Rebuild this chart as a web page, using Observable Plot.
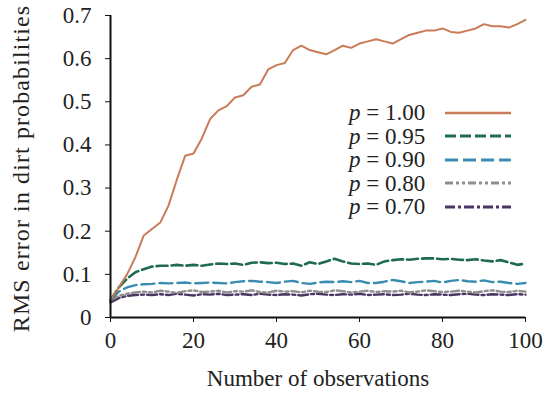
<!DOCTYPE html>
<html>
<head>
<meta charset="utf-8">
<script src="https://cdn.jsdelivr.net/npm/d3@7"></script>
<script src="https://cdn.jsdelivr.net/npm/@observablehq/plot@0.6"></script>
<style>
  html, body { margin: 0; padding: 0; background: #fff; }
  #wrap { position: relative; width: 548px; height: 397px; font-family: "Liberation Serif", "DejaVu Serif", serif; }
  #legend { position: absolute; left: 349px; top: 101px; font-size: 23px; line-height: 23.5px; color: #222; }
  #legend .row { display: flex; align-items: center; height: 23.5px; }
  #legend .lab { width: 94px; white-space: nowrap; }
  #legend svg { display: block; }
</style>
</head>
<body>
<div id="wrap"></div>
<script>
const xs = [0,2,4,6,8,10,12,14,16,18,20,22,24,26,28,30,32,34,36,38,40,42,44,46,48,50,52,54,56,58,60,62,64,66,68,70,72,74,76,78,80,82,84,86,88,90,92,94,96,98,100];
const p100 = [0.04,0.07,0.10,0.14,0.19,0.205,0.22,0.26,0.32,0.375,0.38,0.415,0.46,0.48,0.49,0.51,0.515,0.535,0.54,0.575,0.585,0.59,0.62,0.63,0.62,0.615,0.61,0.62,0.63,0.625,0.635,0.64,0.645,0.64,0.635,0.645,0.655,0.66,0.665,0.665,0.67,0.662,0.66,0.665,0.67,0.68,0.675,0.675,0.672,0.68,0.69];
const p095 = [0.04,0.07,0.09,0.105,0.112,0.118,0.12,0.12,0.122,0.12,0.122,0.12,0.123,0.125,0.124,0.125,0.122,0.127,0.128,0.126,0.127,0.124,0.125,0.12,0.128,0.124,0.13,0.136,0.13,0.125,0.124,0.125,0.122,0.13,0.133,0.135,0.134,0.136,0.137,0.137,0.135,0.136,0.134,0.133,0.135,0.132,0.13,0.133,0.128,0.122,0.125];
const p090 = [0.04,0.06,0.07,0.075,0.077,0.078,0.08,0.079,0.08,0.081,0.079,0.08,0.081,0.08,0.079,0.082,0.084,0.085,0.083,0.082,0.08,0.083,0.085,0.08,0.078,0.081,0.083,0.082,0.084,0.082,0.085,0.08,0.08,0.083,0.087,0.084,0.08,0.082,0.083,0.085,0.081,0.085,0.087,0.084,0.083,0.086,0.082,0.083,0.08,0.078,0.08];
const p080 = [0.04,0.05,0.055,0.058,0.06,0.058,0.062,0.06,0.057,0.061,0.063,0.059,0.06,0.062,0.058,0.061,0.06,0.063,0.059,0.058,0.062,0.06,0.061,0.058,0.062,0.06,0.059,0.063,0.061,0.058,0.06,0.062,0.059,0.061,0.06,0.062,0.058,0.06,0.063,0.061,0.059,0.06,0.062,0.06,0.058,0.061,0.063,0.06,0.059,0.062,0.06];
const p070 = [0.035,0.045,0.05,0.052,0.053,0.052,0.054,0.052,0.055,0.053,0.051,0.054,0.053,0.055,0.052,0.053,0.054,0.052,0.055,0.053,0.052,0.054,0.053,0.051,0.054,0.055,0.053,0.052,0.054,0.053,0.055,0.052,0.053,0.054,0.052,0.053,0.055,0.053,0.052,0.054,0.053,0.052,0.054,0.055,0.053,0.052,0.054,0.053,0.052,0.054,0.053];
const xTicks = [0,20,40,60,80,100];
const yTicks = [0,0.1,0.2,0.3,0.4,0.5,0.6,0.7];

const series = [
  {label: "1.00", values: p100, color: "#c97b57", dash: null, width: 2},
  {label: "0.95", values: p095, color: "#1f6b4e", dash: "11,4", width: 2.6},
  {label: "0.90", values: p090, color: "#3a8db0", dash: "13,5", width: 2.4},
  {label: "0.80", values: p080, color: "#8f8f8f", dash: "8,3,3,3,3,3", width: 2.4},
  {label: "0.70", values: p070, color: "#4b3563", dash: "10,3,3,3", width: 2.4}
];

const lineMarks = series.slice().reverse().map(s =>
  Plot.line(xs.map((x, i) => ({x, y: s.values[i]})), {
    x: "x", y: "y", stroke: s.color, strokeWidth: s.width,
    strokeDasharray: s.dash ?? undefined, strokeLinejoin: "round"
  })
);

const chart = Plot.plot({
  width: 548, height: 397,
  marginLeft: 110, marginRight: 23, marginTop: 15, marginBottom: 80,
  style: {fontFamily: "Liberation Serif, serif", fontSize: "23px", color: "#222", background: "#fff"},
  x: {domain: [0, 100], ticks: xTicks, label: null},
  y: {domain: [0, 0.7], ticks: yTicks, label: null},
  marks: [
    Plot.axisX({ticks: xTicks, tickSize: 5, tickPadding: 9, fontSize: 23, tickFormat: d => d, stroke: "#111"}),
    Plot.axisY({ticks: yTicks, tickSize: 5, tickPadding: 14, fontSize: 23, tickFormat: d => d === 0 ? "0" : d.toFixed(1), stroke: "#111"}),
    ...lineMarks,
    Plot.ruleX([0], {stroke: "#111", strokeWidth: 2}),
    Plot.ruleY([0], {stroke: "#111", strokeWidth: 2}),
    Plot.text(["Number of observations"], {frameAnchor: "bottom", dy: 68, fontSize: 23, fill: "#222"}),
    Plot.text(["RMS error in dirt probabilities"], {frameAnchor: "left", textAnchor: "middle", dx: -89, dy: 2, rotate: -90, fontSize: 24, fill: "#222"})
  ]
});

d3.select(chart).selectAll("text")
  .filter(function() { return this.textContent === "RMS error in dirt probabilities"; })
  .style("letter-spacing", "1.1px");

const wrap = document.getElementById("wrap");
wrap.appendChild(chart);

const legend = document.createElement("div");
legend.id = "legend";
for (const s of series) {
  const row = document.createElement("div");
  row.className = "row";
  const lab = document.createElement("div");
  lab.className = "lab";
  lab.innerHTML = `<i>p</i> = ${s.label}`;
  row.appendChild(lab);
  const svg = d3.create("svg").attr("width", 70).attr("height", 10);
  svg.append("line").attr("x1", 2).attr("x2", 68).attr("y1", 5).attr("y2", 5)
    .attr("stroke", s.color).attr("stroke-width", s.width + 0.4)
    .attr("stroke-dasharray", s.dash);
  row.appendChild(svg.node());
  legend.appendChild(row);
}
wrap.appendChild(legend);
</script>
</body>
</html>
